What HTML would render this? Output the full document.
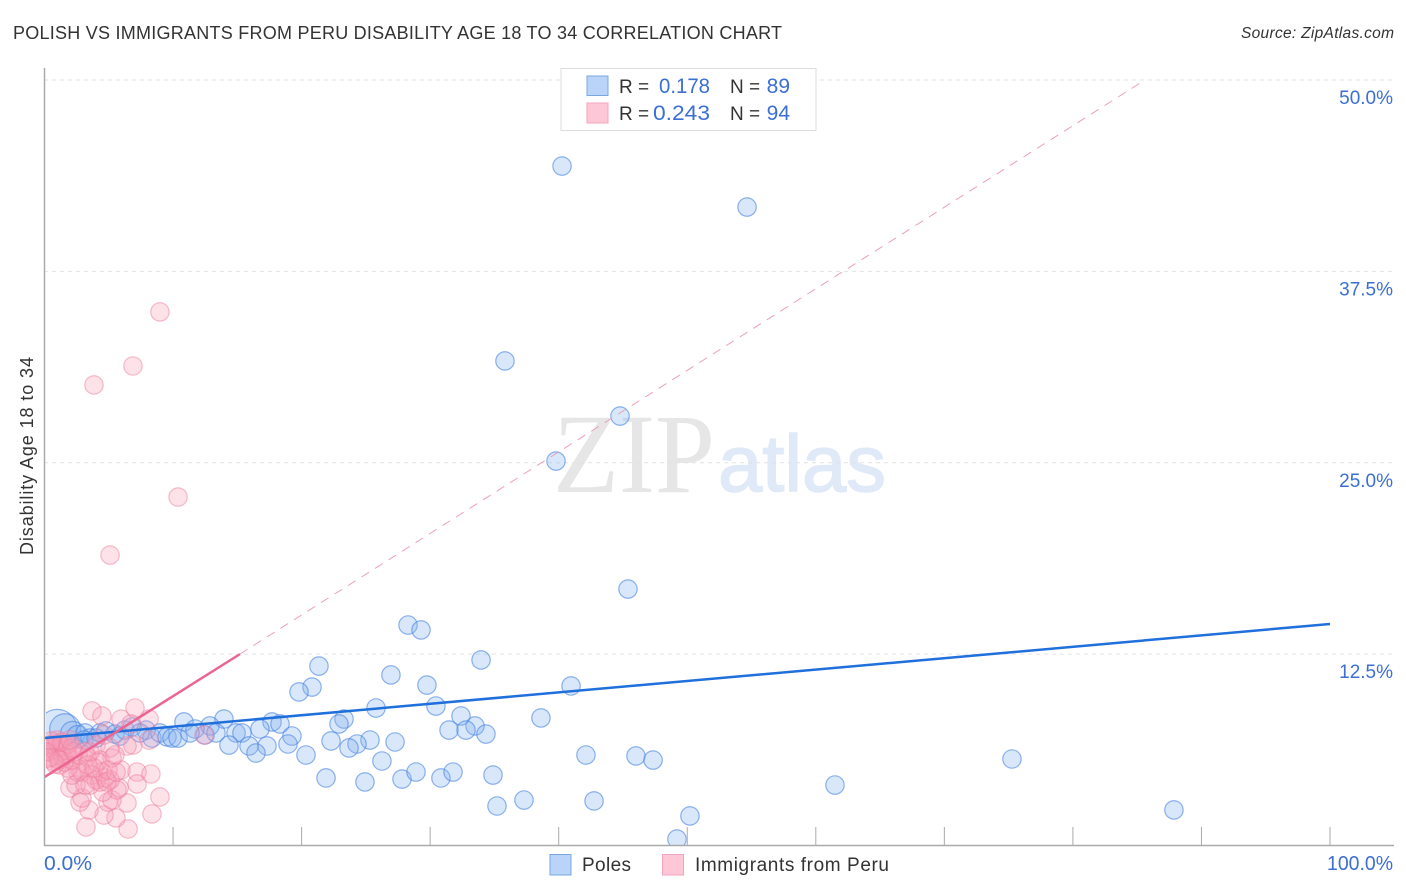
<!DOCTYPE html>
<html lang="en">
<head>
<meta charset="utf-8">
<title>Polish vs Immigrants from Peru Disability Age 18 to 34 Correlation Chart</title>
<style>
html,body{margin:0;padding:0;background:#fff;width:1406px;height:892px;overflow:hidden}
svg{display:block;font-family:"Liberation Sans",sans-serif}
</style>
</head>
<body>
<svg id="chart" width="1406" height="892" viewBox="0 0 1406 892">
  <defs><clipPath id="plot-clip"><rect x="46" y="68" width="1348" height="777"/></clipPath></defs>
  <text x="13" y="39" font-size="18" fill="#333" textLength="769" lengthAdjust="spacing">POLISH VS IMMIGRANTS FROM PERU DISABILITY AGE 18 TO 34 CORRELATION CHART</text>
  <text x="1241" y="38" font-size="15.5" font-style="italic" fill="#333" textLength="153" lengthAdjust="spacing">Source: ZipAtlas.com</text>

  <g>
    <text x="553" y="492" font-family="'Liberation Serif',serif" font-size="113" fill="#e6e6e6" textLength="162" lengthAdjust="spacingAndGlyphs">ZIP</text>
    <text x="718" y="491" font-size="80" fill="#dfe9f7" stroke="#dfe9f7" stroke-width="1.5" textLength="168" lengthAdjust="spacingAndGlyphs">atlas</text>
  </g>

  <g id="grid"></g>
  <g id="points" clip-path="url(#plot-clip)"></g>
  <g id="trends"></g>
  <g id="axes"></g>

  <text transform="translate(33,456) rotate(-90)" text-anchor="middle" font-size="18" fill="#333" textLength="198" lengthAdjust="spacing">Disability Age 18 to 34</text>

  <g>
    <rect x="561" y="68.5" width="255" height="62" fill="#fff" stroke="#ddd"/>
    <rect x="587" y="76" width="21" height="19.5" fill="#b9d4f8" stroke="#7ba7e0"/>
    <rect x="587" y="103" width="21" height="20" fill="#fdc7d8" stroke="#f3a5bd"/>
    <text x="619" y="93" font-size="19" fill="#333">R =</text>
    <text x="659" y="93" font-size="21" fill="#3b6fd4" textLength="51" lengthAdjust="spacingAndGlyphs">0.178</text>
    <text x="730" y="93" font-size="19" fill="#333">N =</text>
    <text x="790" y="93" font-size="21" fill="#3b6fd4" text-anchor="end">89</text>
    <text x="619" y="120" font-size="19" fill="#333">R =</text>
    <text x="653" y="120" font-size="21" fill="#3b6fd4" textLength="57" lengthAdjust="spacingAndGlyphs">0.243</text>
    <text x="730" y="120" font-size="19" fill="#333">N =</text>
    <text x="790" y="120" font-size="21" fill="#3b6fd4" text-anchor="end">94</text>
  </g>

  <g>
    <g>
      <rect x="550" y="854.5" width="21" height="20.5" fill="#b9d4f8" stroke="#7ba7e0"/>
      <text x="582" y="871" font-size="19" fill="#333" textLength="49" lengthAdjust="spacing">Poles</text>
    </g>
    <g>
      <rect x="662.5" y="854.5" width="21" height="20.5" fill="#fdc7d8" stroke="#f3a5bd"/>
      <text x="695" y="871" font-size="19" fill="#333" textLength="194" lengthAdjust="spacing">Immigrants from Peru</text>
    </g>
  </g>
</svg>
<script>
const xEdgeLabels = ["0.0%", "100.0%"];
const xTickValues = [0, 10, 20, 30, 40, 50, 60, 70, 80, 90, 100];
const yTickValues = [12.5, 25, 37.5, 50];
const yTickLabels = ["12.5%", "25.0%", "37.5%", "50.0%"];

const polesX = [1.0,1.6,2.2,2.6,3.15,3.54,4.32,4.78,5.48,6.26,6.81,7.9,8.36,8.98,9.53,9.92,10.39,12.49,3.07,4.01,5.87,7.43,
40.26,54.65,35.82,44.77,39.79,45.39,28.28,29.29,33.96,21.35,26.95,20.81,19.8,29.75,40.96,30.45,25.79,23.3,22.91,32.4,33.49,38.62,31.47,32.79,34.34,13.96,10.85,12.87,11.71,17.7,18.32,16.76,14.9,15.36,19.25,13.34,11.32,22.29,25.32,24.31,23.69,27.27,14.35,15.91,17.31,18.94,16.45,20.34,26.25,42.12,46.01,47.34,75.26,61.49,87.86,21.9,24.93,27.81,28.9,30.84,31.78,34.89,35.2,37.3,42.75,50.21,49.2];
const polesY = [7.6,7.6,7.3,7.1,7.35,7.02,7.35,7.48,7.28,7.54,7.74,7.54,7.02,7.35,7.09,7.02,7.02,7.22,6.89,7.02,7.15,7.35,
44.38,41.7,31.65,28.05,25.11,16.75,14.4,14.08,12.12,11.72,11.14,10.35,10.03,10.48,10.42,9.11,8.98,8.26,7.94,8.46,7.81,8.33,7.54,7.54,7.28,8.26,8.07,7.81,7.61,8.07,7.94,7.61,7.35,7.35,7.15,7.35,7.35,6.83,6.89,6.63,6.37,6.76,6.56,6.5,6.5,6.63,6.04,5.91,5.52,5.91,5.85,5.58,5.65,3.95,2.32,4.41,4.15,4.34,4.8,4.41,4.8,4.6,2.58,2.97,2.91,1.93,0.42];
const polesWeight = [4.6,2.8,1.8,1.5];

const peruX = [8.98,6.88,3.85,10.39,5.1,7.04,3.7,4.47,5.95,8.13,6.73,12.41,6.88,6.42,8.13,
5.95,7.2,8.28,7.2,8.98,8.36,6.42,6.5,3.23,5.56,4.63,3.46,2.76,2.92,1.98,2.45,4.94,5.25,5.8,5.64,4.55,5.25,4.01,5.1,4.32,4.08,3.31,3.15,2.61,2.92,2.76,3.7,4.01,3.54,4.32,4.71,5.1,4.47,3.15,4.86,2.14,1.83,1.21,1.52,2.14,2.61,
0.27,0.43,0.58,0.74,0.82,0.97,1.05,1.21,1.28,1.44,1.52,1.67,1.75,0.43,0.66,0.97,1.36,1.83,2.14,2.29,0.51,0.82,0.12,0.35,1.13,1.98,
3.38,3.85,4.94,5.56,5.48,3.54,4.63];
const peruY = [34.85,31.32,30.08,22.76,18.97,8.98,8.79,8.46,8.26,8.26,7.94,7.22,6.56,6.5,6.89,
4.93,4.8,4.67,4.02,3.17,2.06,2.78,1.08,1.21,1.8,1.99,2.32,2.84,3.1,3.76,3.95,2.84,2.97,3.76,3.63,3.49,5.72,6.56,6.37,5.58,5.45,5.78,6.11,4.8,4.8,4.93,4.6,4.28,3.95,4.15,4.41,4.28,4.8,3.95,4.15,4.6,5.06,5.26,5.45,5.58,5.91,
6.37,6.11,5.78,6.56,6.24,5.91,6.69,6.37,6.11,5.78,6.5,6.24,5.91,6.56,5.52,6.89,6.76,6.63,6.37,6.11,6.82,5.32,6.11,5.72,5.58,6.89,
5.26,5.06,4.93,4.8,5.91,6.11,7.22];

const polesTrendX = [0, 100];
const polesTrendY = [7.02, 14.47];
const peruTrendX = [0, 15.2];
const peruTrendY = [4.47, 12.5];
const peruExtendX = [15.2, 85.6];
const peruExtendY = [12.5, 50];

const NS = "http://www.w3.org/2000/svg";
const sx = v => 44.5 + v * 12.855;
const sy = v => 845.5 - v * 15.31;
const make = (tag, attrs) => {
  const el = document.createElementNS(NS, tag);
  for (const k in attrs) el.setAttribute(k, attrs[k]);
  return el;
};

const grid = document.getElementById("grid");
const axes = document.getElementById("axes");
const points = document.getElementById("points");
const trends = document.getElementById("trends");

yTickValues.forEach((v, i) => {
  const line = make("line", {x1: 44, x2: 1394, y1: sy(v), y2: sy(v), stroke: "#e2e2e2", "stroke-dasharray": "4 4"});
  
  
  grid.appendChild(line);
  const label = make("text", {x: 1393, y: sy(v) + 24, "text-anchor": "end", "font-size": 19, fill: "#3b6fd4"});
  label.textContent = yTickLabels[i];
  
  
  axes.appendChild(label);
});

const yAxis = make("line", {x1: 44.5, x2: 44.5, y1: 68, y2: 846, stroke: "#aaa", "stroke-width": 1.5});


axes.appendChild(yAxis);

const xAxis = make("line", {x1: 44, x2: 1394, y1: 845.5, y2: 845.5, stroke: "#aaa", "stroke-width": 1.5});


axes.appendChild(xAxis);

xTickValues.slice(1).forEach(v => {
  const tick = make("line", {x1: sx(v), x2: sx(v), y1: 827, y2: 845.5, stroke: "#aaa", "stroke-width": 1});
  
  
  axes.appendChild(tick);
});

const xLabelLeft = make("text", {x: 44, y: 870, "font-size": 20, fill: "#3b6fd4", textLength: 48, lengthAdjust: "spacingAndGlyphs"});
xLabelLeft.textContent = xEdgeLabels[0];


axes.appendChild(xLabelLeft);

const xLabelRight = make("text", {x: 1327, y: 870, "font-size": 20, fill: "#3b6fd4", textLength: 66, lengthAdjust: "spacingAndGlyphs"});
xLabelRight.textContent = xEdgeLabels[1];


axes.appendChild(xLabelRight);

polesX.forEach((x, i) => {
  const w = polesWeight[i] || 1;
  const c = make("circle", {cx: sx(x), cy: sy(polesY[i]), r: 9.2 * Math.sqrt(w), fill: "rgba(130,175,240,0.3)", stroke: "rgba(70,130,225,0.6)", "stroke-width": 1.2});
  
  
  points.appendChild(c);
});

peruX.forEach((x, i) => {
  const c = make("circle", {cx: sx(x), cy: sy(peruY[i]), r: 9.2, fill: "rgba(250,160,185,0.3)", stroke: "rgba(238,125,155,0.5)", "stroke-width": 1.2});
  
  
  points.appendChild(c);
});

const extend = make("line", {x1: sx(peruExtendX[0]), y1: sy(peruExtendY[0]), x2: sx(peruExtendX[1]), y2: sy(peruExtendY[1]), stroke: "#eda0b8", "stroke-width": 1, "stroke-dasharray": "9 7"});


trends.appendChild(extend);

const blueLine = make("line", {x1: sx(polesTrendX[0]), y1: sy(polesTrendY[0]), x2: sx(polesTrendX[1]), y2: sy(polesTrendY[1]), stroke: "#1f6fdc", "stroke-width": 2.5});


trends.appendChild(blueLine);

const pinkLine = make("line", {x1: sx(peruTrendX[0]), y1: sy(peruTrendY[0]), x2: sx(peruTrendX[1]), y2: sy(peruTrendY[1]), stroke: "#ec6491", "stroke-width": 2.5});


trends.appendChild(pinkLine);
</script>
</body>
</html>
